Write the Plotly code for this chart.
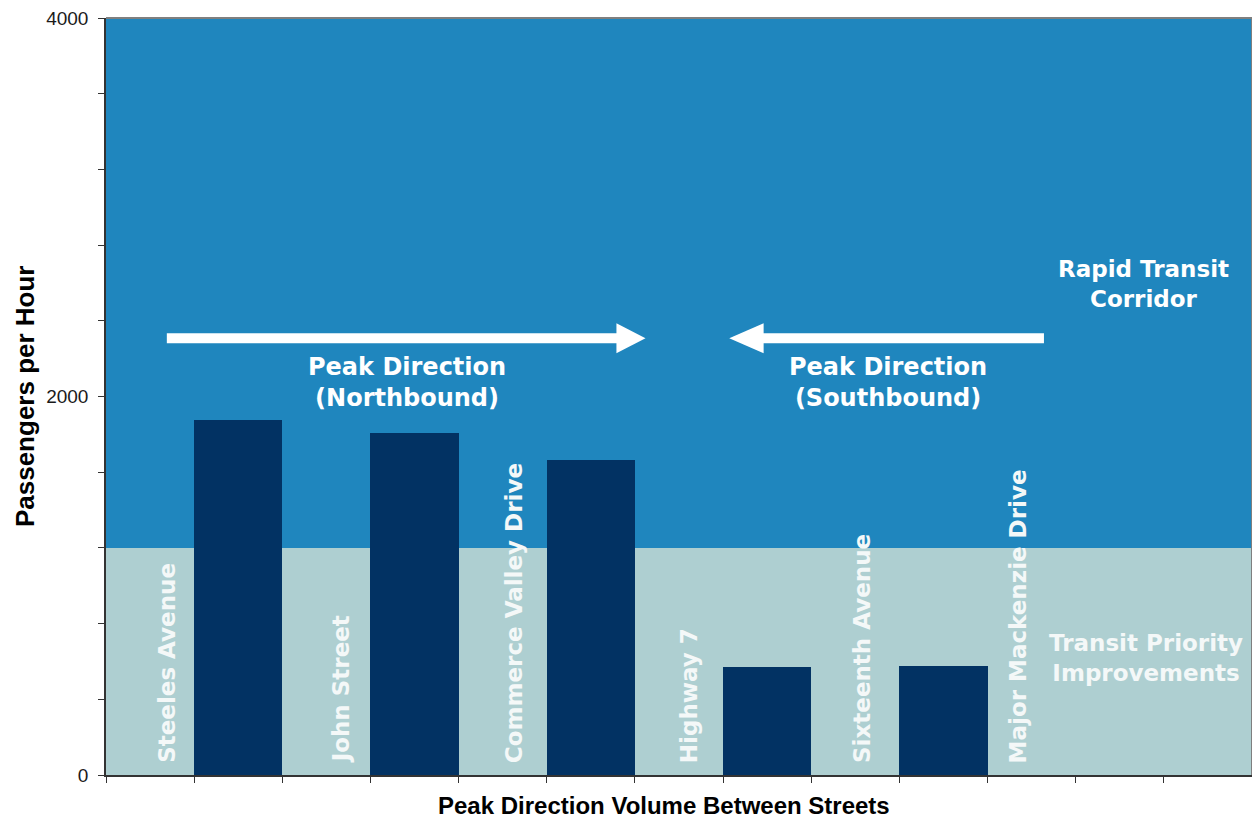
import plotly.graph_objects as go

# ---------------- data ----------------
streets = ["Steeles Avenue", "John Street", "Commerce Valley Drive",
           "Highway 7", "Sixteenth Avenue", "Major Mackenzie Drive"]
segment_volumes = [1875, 1805, 1665, 570, 575]   # passengers/hour between consecutive streets
priority_limit = 1200                            # upper limit of "Transit Priority Improvements"
y_max = 4000
y_tick_step = 400
y_tick_labels = {0: "0", 2000: "2000", 4000: "4000"}
n_slots = 13

# colours
c_dark_bg = "#1F86BE"
c_light_bg = "#AECFD1"
c_bar = "#023263"
c_text = "#F4F8F8"

# positions (slot units)
bar_x = [2 * i + 1.5 for i in range(len(segment_volumes))]
label_offsets = [0.69, 0.67, 0.63, 0.61, 0.57, 0.35]
label_x = [2 * i + off for i, off in enumerate(label_offsets)]

fig = go.Figure()

fig.add_trace(go.Bar(
    x=bar_x, y=segment_volumes, width=1.0,
    marker=dict(color=c_bar, line=dict(width=0)),
    hoverinfo="skip", showlegend=False,
))

shapes = [
    dict(type="rect", xref="x", yref="y", x0=0, x1=n_slots, y0=0, y1=priority_limit,
         fillcolor=c_light_bg, line=dict(width=0), layer="below"),
    dict(type="rect", xref="x", yref="y", x0=0, x1=n_slots, y0=priority_limit, y1=y_max,
         fillcolor=c_dark_bg, line=dict(width=0), layer="below"),
    # frame top/right
    dict(type="line", xref="paper", yref="paper", x0=0, x1=1, y0=1, y1=1,
         line=dict(color="#7F7F7F", width=2)),
    dict(type="line", xref="paper", yref="paper", x0=1, x1=1, y0=0, y1=1,
         line=dict(color="#7F7F7F", width=2)),
]

# arrows (shaft + head)
arrow_y = 2308
shaft_h = 26
head_h = 79
# northbound arrow (to the right)
shapes.append(dict(type="rect", xref="x", yref="y", x0=0.69, x1=5.85,
                   y0=arrow_y - shaft_h, y1=arrow_y + shaft_h,
                   fillcolor="white", line=dict(width=0)))
shapes.append(dict(type="path", xref="x", yref="y",
                   path=f"M 5.79 {arrow_y - head_h} L 6.12 {arrow_y} L 5.79 {arrow_y + head_h} Z",
                   fillcolor="white", line=dict(width=0)))
# southbound arrow (to the left)
shapes.append(dict(type="rect", xref="x", yref="y", x0=7.40, x1=10.64,
                   y0=arrow_y - shaft_h, y1=arrow_y + shaft_h,
                   fillcolor="white", line=dict(width=0)))
shapes.append(dict(type="path", xref="x", yref="y",
                   path=f"M 7.46 {arrow_y - head_h} L 7.07 {arrow_y} L 7.46 {arrow_y + head_h} Z",
                   fillcolor="white", line=dict(width=0)))

annotations = []
for name, lx in zip(streets, label_x):
    annotations.append(dict(
        x=lx, y=0, xref="x", yref="y", text=f"<b>{name}</b>", textangle=-90,
        showarrow=False, xanchor="center", yanchor="bottom", yshift=10,
        font=dict(family="DejaVu Sans", size=23, color=c_text),
    ))

big_font = dict(family="DejaVu Sans", size=24, color="white")
annotations += [
    dict(x=3.42, y=2076, xref="x", yref="y", text="<b>Peak Direction<br>(Northbound)</b>",
         showarrow=False, font=big_font, align="center", yanchor="middle"),
    dict(x=8.87, y=2076, xref="x", yref="y", text="<b>Peak Direction<br>(Southbound)</b>",
         showarrow=False, font=big_font, align="center", yanchor="middle"),
    dict(x=11.77, y=2596, xref="x", yref="y", text="<b>Rapid Transit<br>Corridor</b>",
         showarrow=False, font=dict(family="DejaVu Sans", size=23, color="white"),
         align="center", yanchor="middle"),
    dict(x=11.80, y=617, xref="x", yref="y", text="<b>Transit Priority<br>Improvements</b>",
         showarrow=False, font=dict(family="DejaVu Sans", size=23, color=c_text),
         align="center", yanchor="middle"),
    # axis titles
    dict(x=0.4865, y=-0.0590, xref="paper", yref="paper",
         text="<b>Peak Direction Volume Between Streets</b>", showarrow=False,
         xanchor="center", yanchor="bottom", borderpad=0,
         font=dict(family="Liberation Sans", size=24, color="black")),
    dict(x=-0.0706, y=0.5007, xref="paper", yref="paper",
         text="<b>Passengers per Hour</b>", showarrow=False, textangle=-90,
         xanchor="center", yanchor="middle",
         font=dict(family="Liberation Sans", size=26, color="black")),
]

y_ticks = list(range(0, y_max + 1, y_tick_step))
fig.update_layout(
    width=1244, height=812,
    margin=dict(l=98, r=0, t=8, b=45),
    paper_bgcolor="white", plot_bgcolor="white",
    bargap=0,
    shapes=shapes, annotations=annotations,
    xaxis=dict(range=[0, n_slots], tickvals=list(range(0, n_slots + 1)),
               ticktext=[""] * (n_slots + 1), ticks="outside", ticklen=6,
               tickcolor="#333333", tickwidth=1.2, showgrid=False, zeroline=False,
               showline=True, linecolor="#333333", linewidth=1.5),
    yaxis=dict(range=[0, y_max], tickvals=y_ticks,
               ticktext=[y_tick_labels.get(v, "") for v in y_ticks],
               ticks="outside", ticklen=6, tickcolor="#333333", tickwidth=1.2,
               tickfont=dict(family="Liberation Sans", size=19, color="#1a1a1a"),
               ticklabelstandoff=6, ticklabeloverflow="allow",
               showgrid=False, zeroline=False,
               showline=True, linecolor="#333333", linewidth=1.5),
)

fig.write_html("out.html")
